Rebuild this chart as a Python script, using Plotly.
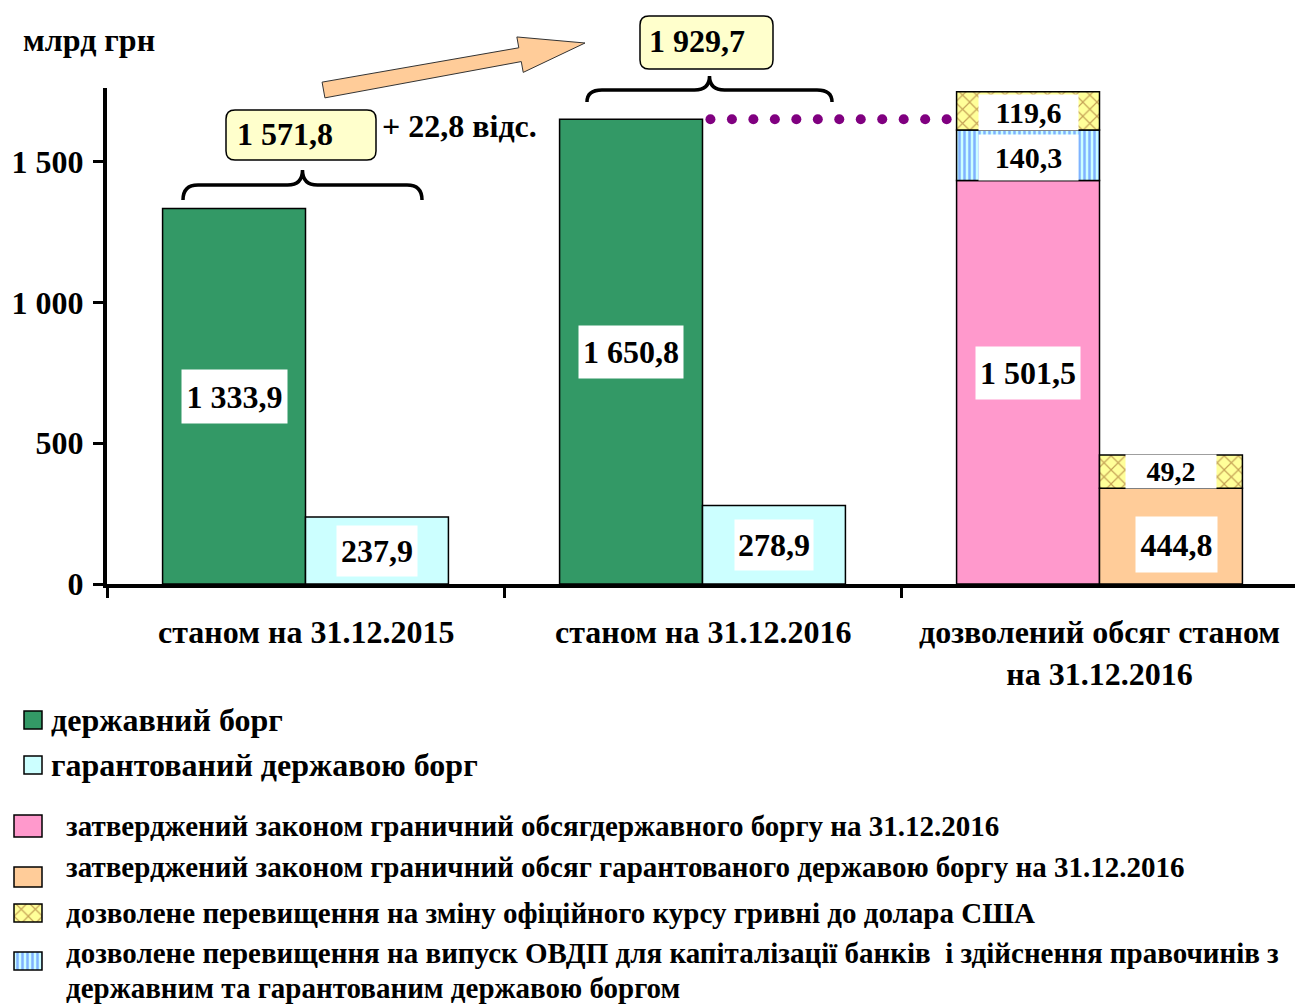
import numpy as np
import plotly.graph_objects as go

W, H = 1295, 1004
FONT = "Liberation Serif, Times New Roman, serif"

# ---------------- data ----------------
periods = ["станом на 31.12.2015", "станом на 31.12.2016",
           "дозволений обсяг станом<br>на 31.12.2016"]
state_debt = [1333.9, 1650.8]          # державний борг
guaranteed_debt = [237.9, 278.9]       # гарантований державою борг
limit_state_label = 1501.5             # граничний обсяг державного боргу
limit_guar_label = 444.8               # граничний обсяг гарантованого боргу
ovdp_excess_label = 140.3              # перевищення на випуск ОВДП
fx_excess_labels = [119.6, 49.2]       # перевищення на зміну курсу
# segment heights as drawn in the picture
limit_state_drawn = 1433
ovdp_excess_drawn = 180
fx_excess_drawn = [136, 118]
limit_guar_drawn = 340

y_ticks = [0, 500, 1000, 1500]
y_max = 1762

legend_main = ["державний борг", "гарантований державою борг"]
legend_limits = [
    "затверджений законом граничний обсягдержавного боргу на 31.12.2016",
    "затверджений законом граничний обсяг гарантованого державою боргу на 31.12.2016",
    "дозволене перевищення на зміну офіційного курсу гривні до долара США",
    "дозволене перевищення на випуск ОВДП для капіталізації банків  і здійснення правочинів з",
    "державним та гарантованим державою боргом",
]

GREEN, CYAN, PINK, ORANGE = "#339966", "#CCFFFF", "#FF99CC", "#FFCC99"
CROSS = dict(shape="x", fgcolor="#8B4513", bgcolor="#FFFF99", size=10, solidity=0.22)
STRIPE = dict(shape="|", fgcolor="#3366FF", bgcolor="#CCFFFF", size=5, solidity=0.5)
OUTLINE = dict(color="black", width=1.5)
BIG = 32


def fmt(v):
    return f"{v:,.1f}".replace(",", " ").replace(".", ",")


def X(px):
    return px / W


def Y(py):
    return 1 - py / H


def P(px, py):
    return f"{X(px):.5f},{Y(py):.5f}"


def bold(size):
    return dict(family=FONT, size=size, color="black", weight="bold")


# ---------------- geometry ----------------
cat_px = 397.0
x_left_px = 107
off, bw = 0.18, 0.36

fig = go.Figure()

fig.add_trace(go.Bar(x=[0 - off, 1 - off], y=state_debt, width=bw,
                     marker=dict(color=GREEN, line=OUTLINE), name=legend_main[0]))
fig.add_trace(go.Bar(x=[0 + off, 1 + off], y=guaranteed_debt, width=bw,
                     marker=dict(color=CYAN, line=OUTLINE), name=legend_main[1]))
fig.add_trace(go.Bar(x=[2 - off], y=[limit_state_drawn], width=bw,
                     marker=dict(color=PINK, line=OUTLINE), name=legend_limits[0]))
fig.add_trace(go.Bar(x=[2 + off], y=[limit_guar_drawn], width=bw,
                     marker=dict(color=ORANGE, line=OUTLINE), name=legend_limits[1]))
fig.add_trace(go.Bar(x=[2 - off], y=[ovdp_excess_drawn], base=[limit_state_drawn], width=bw,
                     marker=dict(color=STRIPE["bgcolor"], pattern=STRIPE, line=OUTLINE),
                     name="ovdp"))
fig.add_trace(go.Bar(x=[2 - off, 2 + off], y=fx_excess_drawn,
                     base=[limit_state_drawn + ovdp_excess_drawn, limit_guar_drawn], width=bw,
                     marker=dict(color=CROSS["bgcolor"], pattern=CROSS, line=OUTLINE),
                     name="fx"))

# purple dotted connector at the 2016 state-debt level
d_start = 1 + 0.02
d_end = 2 - off - bw / 2 - 0.025
fig.add_trace(go.Scatter(x=np.linspace(d_start, d_end, 12), y=[state_debt[1]] * 12,
                         mode="markers", marker=dict(color="#800080", size=10),
                         hoverinfo="skip"))

# ---------------- legend swatches (own hidden axes) ----------------
sw = [  # (center x px, width px, top py, height px, style)
    (33, 18, 711, 18, "green"),
    (33, 18, 756, 18, "cyan"),
    (28, 28, 815, 22, "pink"),
    (28, 28, 867, 20, "orange"),
    (28, 28, 904, 18, "cross"),
    (28, 28, 952, 18, "stripe"),
]
style_map = {
    "green": dict(color=GREEN, line=OUTLINE),
    "cyan": dict(color=CYAN, line=OUTLINE),
    "pink": dict(color=PINK, line=OUTLINE),
    "orange": dict(color=ORANGE, line=OUTLINE),
    "cross": dict(color=CROSS["bgcolor"], pattern=CROSS, line=OUTLINE),
    "stripe": dict(color=STRIPE["bgcolor"], pattern=STRIPE, line=OUTLINE),
}
for cx, w, top, h, st in sw:
    fig.add_trace(go.Bar(x=[cx], y=[h], base=[top], width=w, marker=style_map[st],
                         xaxis="x3", yaxis="y3", hoverinfo="skip"))

# ---------------- annotations ----------------
ann = []


def lab(x, y, v, bw_px, bh_px, size=BIG):
    ann.append(dict(x=x, y=y, xref="x", yref="y", text=fmt(v), showarrow=False,
                    xanchor="center", yanchor="middle",
                    bgcolor="white", borderpad=0, width=bw_px, height=bh_px,
                    font=bold(size)))


lab(0 - off, state_debt[0] / 2, state_debt[0], 105, 53)
lab(0 + off, guaranteed_debt[0] / 2, guaranteed_debt[0], 80, 50)
lab(1 - off, state_debt[1] / 2, state_debt[1], 104, 52)
lab(1 + off, guaranteed_debt[1] / 2, guaranteed_debt[1], 78, 50)
lab(2 - off, limit_state_label / 2, limit_state_label, 104, 52)
lab(2 - off, limit_state_drawn + ovdp_excess_drawn / 2 - 8, ovdp_excess_label, 99, 45, size=30)
lab(2 - off, limit_state_drawn + ovdp_excess_drawn + fx_excess_drawn[0] / 2 - 6,
    fx_excess_labels[0], 99, 35, size=30)
lab(2 + off + 0.015, limit_guar_drawn / 2 - 30, limit_guar_label, 81, 55)
lab(2 + off, limit_guar_drawn + fx_excess_drawn[1] / 2, fx_excess_labels[1], 90, 33, size=28)

# category labels
for i, t in enumerate(periods):
    ann.append(dict(x=i, y=Y(612), xref="x", yref="paper", yanchor="top", xanchor="center",
                    text=t, showarrow=False, font=bold(BIG)))


def ptext(px, py, text, size=BIG):
    ann.append(dict(x=X(px), y=Y(py), xref="paper", yref="paper", xanchor="left",
                    yanchor="middle", align="left", text=text, showarrow=False,
                    font=bold(size)))


# unit title
ptext(21, 40, "млрд грн")

# totals
total_2015 = state_debt[0] + guaranteed_debt[0]
total_2016 = state_debt[1] + guaranteed_debt[1]
growth = (total_2016 / total_2015 - 1) * 100
ptext(235, 134, fmt(total_2015))
ptext(647, 41, fmt(total_2016))
ptext(380, 126, "+ " + f"{growth:.1f}".replace(".", ",") + " відс.")

# legend texts
ptext(49, 720, legend_main[0])
ptext(49, 765, legend_main[1])
for t, py in zip(legend_limits, [826, 867, 913, 953, 988]):
    ptext(64, py, t, size=29)

# ---------------- shapes ----------------
shapes = []


def rrect(x0, y0, x1, y1, r):
    return (f"M{P(x0 + r, y0)} L{P(x1 - r, y0)} Q{P(x1, y0)} {P(x1, y0 + r)} "
            f"L{P(x1, y1 - r)} Q{P(x1, y1)} {P(x1 - r, y1)} L{P(x0 + r, y1)} "
            f"Q{P(x0, y1)} {P(x0, y1 - r)} L{P(x0, y0 + r)} Q{P(x0, y0)} {P(x0 + r, y0)} Z")


def brace(x0, x1, ytop, yend, ytip):
    xm = (x0 + x1) / 2
    r = 15
    return (f"M{P(x0, yend)} Q{P(x0, ytop)} {P(x0 + r, ytop)} L{P(xm - r, ytop)} "
            f"Q{P(xm, ytop)} {P(xm, ytip)} Q{P(xm, ytop)} {P(xm + r, ytop)} "
            f"L{P(x1 - r, ytop)} Q{P(x1, ytop)} {P(x1, yend)}")


shapes.append(dict(type="path", xref="paper", yref="paper", path=brace(183, 422, 185, 200, 170),
                   line=dict(color="black", width=3.5)))
shapes.append(dict(type="path", xref="paper", yref="paper", path=brace(587, 832, 90, 102, 76),
                   line=dict(color="black", width=3.5)))
shapes.append(dict(type="path", xref="paper", yref="paper", path=rrect(226, 110, 376, 160, 9),
                   fillcolor="#FFFFCC", line=dict(color="black", width=1.5)))
shapes.append(dict(type="path", xref="paper", yref="paper", path=rrect(640, 16, 773, 69, 9),
                   fillcolor="#FFFFCC", line=dict(color="black", width=1.5)))

# block arrow
tail = np.array([323.5, 90.0])
tip = np.array([585.0, 43.0])
d = (tip - tail) / np.linalg.norm(tip - tail)
n = np.array([-d[1], d[0]])
hb = tip - 66 * d
pts = [tail - 8 * n, hb - 7 * n, hb - 18 * n, tip, hb + 18 * n, hb + 7 * n, tail + 8 * n]
arrow_path = "M" + " L".join(P(p[0], p[1]) for p in pts) + " Z"
shapes.append(dict(type="path", xref="paper", yref="paper", path=arrow_path,
                   fillcolor="#FFCC99", line=dict(color="#333333", width=1)))

# ---------------- layout ----------------
fig.update_layout(
    width=W, height=H, autosize=False,
    margin=dict(l=0, r=0, t=0, b=0, pad=0),
    paper_bgcolor="white", plot_bgcolor="rgba(0,0,0,0)",
    barmode="overlay", showlegend=False, separators=", ",
    font=dict(family=FONT, color="black"),
    xaxis=dict(domain=[X(x_left_px), 1], range=[-0.5, -0.5 + (W - x_left_px) / cat_px],
               tickvals=[-0.5, 0.5, 1.5, 2.5], ticks="outside", ticklen=10, tickwidth=3,
               tickcolor="black", showticklabels=False, showline=True, linewidth=4,
               linecolor="black", showgrid=False, zeroline=False, fixedrange=True,
               automargin=False),
    yaxis=dict(domain=[Y(584), Y(88)], range=[0, y_max], tickvals=y_ticks,
               tickformat=",d", ticks="outside", ticklen=10, tickwidth=3, tickcolor="black",
               ticklabelstandoff=3, tickfont=bold(BIG),
               showline=True, linewidth=4, linecolor="black", showgrid=False,
               zeroline=False, fixedrange=True, automargin=False),
    xaxis3=dict(domain=[0, X(60)], range=[0, 60], anchor="y3", visible=False,
                fixedrange=True, automargin=False),
    yaxis3=dict(domain=[0, Y(690)], range=[H, 690], anchor="x3", visible=False,
                fixedrange=True, automargin=False),
    annotations=ann,
    shapes=shapes,
)

fig.write_html("out.html", config={"displayModeBar": False},
               post_script="document.body.style.margin='0';"
                           "document.documentElement.style.overflow='hidden';"
                           "document.body.style.overflow='hidden';")
